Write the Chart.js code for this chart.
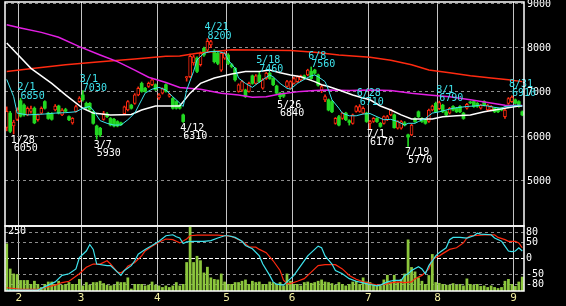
<!DOCTYPE html>
<html>
<head>
<meta charset="utf-8">
<title>daily chart</title>
<script src="https://cdn.jsdelivr.net/npm/chart.js@4/dist/chart.umd.min.js"></script>
<style>
	html, body { margin: 0; padding: 0; background: #000; }
	#wrap { position: relative; width: 566px; height: 306px; overflow: hidden; }
	canvas { position: absolute; left: 0; display: block; }
	#price { top: 0; }
	#lower { top: 224px; }
</style>
</head>
<body>
<div id="wrap">
	<canvas id="price" width="566" height="228"></canvas>
	<canvas id="lower" width="566" height="82"></canvas>
</div>
<script>
// trading day index where each month starts, and its label
const monthStarts = [4, 22, 44, 64, 83, 105, 125, 147];
const monthLabels = ['2', '3', '4', '5', '6', '7', '8', '9'];
const priceTicks = [5000, 6000, 7000, 8000, 9000];
const oscTicks = [-80, -50, 0, 50, 80];
const volMax = 250;

// daily candles, one value per trading day
const opens = [
	6200,6520,6230,6380,6800,6700,6480,6560,6630,6370,
	6520,6780,6520,6500,6590,6680,6480,6600,6440,6300,
	6560,6780,6930,6740,6740,6550,6230,6180,6380,6500,
	6400,6380,6330,6300,6510,6590,6700,6740,6930,7190,
	7080,7120,7160,7160,6860,6970,7160,6900,6850,6780,
	6700,6480,7320,7340,7650,7760,7610,7980,7940,8060,
	7910,7870,7490,7760,7830,7610,7530,7010,7040,7040,
	7010,7360,7190,7380,7080,7300,7420,7300,7130,6970,
	6960,7120,7080,7190,7230,7270,7360,7380,7460,7490,
	7380,7040,6820,6820,6780,6290,6440,6400,6520,6350,
	6290,6560,6560,6520,6520,6290,6330,6400,6290,6290,
	6370,6480,6480,6180,6180,6300,6030,6030,6400,6550,
	6400,6370,6330,6590,6740,6620,6700,6550,6520,6670,
	6630,6670,6520,6630,6770,6780,6740,6630,6780,6590,
	6590,6630,6610,6630,6440,6740,6780,6820,6780,6550
];
const highs = [
	6660,6560,6360,6640,6850,6730,6660,6680,6660,6500,
	6660,6800,6540,6530,6710,6700,6620,6630,6460,6420,
	6700,6890,7030,6770,6760,6570,6250,6200,6560,6530,
	6420,6400,6350,6320,6680,6800,6720,6960,7110,7220,
	7100,7220,7300,7180,6960,7090,7180,6970,6870,6800,
	6720,6500,7350,7850,7830,7790,7900,8010,8200,8160,
	7950,7900,7900,7900,7860,7640,7550,7180,7260,7060,
	7220,7380,7390,7460,7300,7440,7440,7320,7150,6990,
	6990,7260,7250,7330,7360,7380,7380,7510,7560,7510,
	7400,7150,6930,6840,6800,6420,6470,6540,6540,6370,
	6500,6690,6710,6660,6540,6360,6420,6420,6310,6460,
	6470,6610,6500,6350,6350,6330,6050,6270,6420,6570,
	6420,6390,6610,6700,6770,6790,6720,6570,6650,6690,
	6650,6690,6540,6740,6790,6800,6760,6720,6800,6720,
	6690,6650,6630,6650,6610,6870,6910,6840,6800,6570
];
const lows = [
	6120,6080,6050,6350,6430,6450,6460,6520,6280,6340,
	6500,6610,6380,6360,6570,6500,6460,6540,6350,6270,
	6540,6760,6790,6620,6580,6270,5930,5990,6360,6420,
	6230,6210,6210,6240,6490,6570,6610,6720,6910,6990,
	6990,7100,7140,7030,6830,6950,6990,6880,6610,6610,
	6610,6310,7240,7320,7600,7430,7580,7800,7900,8000,
	7650,7610,7460,7730,7610,7540,7240,6990,7010,6870,
	6990,7170,7170,7210,7060,7280,7280,7140,6950,6840,
	6870,7100,7060,7170,7210,7250,7280,7360,7280,7400,
	7130,6980,6780,6570,6530,6270,6230,6380,6350,6250,
	6270,6540,6540,6500,6310,6170,6310,6310,6200,6270,
	6350,6460,6180,6160,6160,6230,5770,6010,6310,6420,
	6310,6270,6310,6570,6530,6600,6530,6460,6500,6570,
	6530,6530,6380,6610,6730,6650,6650,6610,6680,6570,
	6570,6530,6530,6570,6400,6720,6760,6720,6650,6460
];
const closes = [
	6560,6110,6320,6590,6450,6480,6630,6620,6300,6480,
	6630,6630,6400,6380,6680,6520,6590,6560,6370,6400,
	6670,6860,6820,6640,6600,6290,6030,6030,6510,6440,
	6250,6230,6230,6260,6660,6780,6630,6930,7080,7010,
	7010,7190,7270,7050,6930,7070,7010,6940,6630,6630,
	6630,6330,7340,7800,7790,7460,7870,7830,8140,8130,
	7680,7640,7870,7870,7640,7570,7270,7160,7230,6890,
	7190,7190,7360,7230,7270,7420,7300,7160,6970,6890,
	6900,7230,7230,7300,7340,7360,7300,7490,7300,7420,
	7150,7120,6890,6590,6550,6400,6250,6520,6370,6310,
	6480,6670,6670,6630,6330,6330,6400,6330,6220,6440,
	6440,6590,6190,6330,6330,6250,5980,6250,6330,6440,
	6330,6290,6590,6680,6550,6760,6550,6480,6630,6590,
	6550,6550,6400,6720,6750,6670,6670,6700,6700,6700,
	6670,6550,6550,6590,6590,6850,6880,6740,6670,6480
];
const volumes = [
	183,86,67,65,42,42,42,27,39,27,
	15,27,36,36,27,39,24,27,34,27,
	27,46,21,34,24,34,34,39,30,24,
	21,24,36,34,34,52,9,27,27,27,
	21,24,36,24,21,15,21,15,21,34,
	21,27,111,250,111,135,118,71,93,52,
	46,44,67,36,27,27,34,34,39,44,
	27,39,34,36,27,27,36,34,27,34,
	21,67,39,27,27,21,34,36,31,34,
	39,44,36,34,30,24,34,27,21,27,
	36,39,27,52,36,34,27,21,21,44,
	62,34,62,34,46,67,198,92,75,52,
	39,27,61,142,34,31,27,24,24,30,
	24,27,21,48,27,24,27,19,21,15,
	21,15,11,15,39,46,27,19,36,55
];

// moving averages as [day, price]
const maShort = [[0,7280],[2,6890],[3,6520],[6,6480],[11,6500],[14,6520],[17,6530],[20,6550],[22,6630],[24,6670],[25,6590],[27,6350],[29,6290],[31,6250],[33,6250],[35,6370],[37,6520],[39,6820],[40,6970],[42,7060],[44,7100],[46,7040],[48,6890],[49,6820],[51,6670],[52,7040],[54,7460],[55,7720],[57,7870],[59,7910],[61,7910],[63,7870],[64,7720],[66,7530],[67,7310],[69,7190],[71,7100],[72,7160],[74,7270],[76,7380],[77,7340],[79,7190],[81,7080],[82,7060],[84,7190],[86,7280],[88,7360],[89,7380],[90,7340],[92,7230],[93,7040],[94,6820],[96,6630],[97,6520],[99,6460],[101,6460],[103,6500],[105,6510],[107,6440],[109,6370],[111,6380],[113,6330],[115,6250],[116,6290],[118,6290],[119,6330],[121,6400],[123,6520],[125,6550],[127,6590],[129,6630],[131,6650],[133,6670],[135,6680],[137,6700],[139,6680],[141,6650],[143,6630],[144,6670],[146,6680],[148,6700],[149,6680]];
const maMid = [[0,8100],[7,7530],[13,7190],[17,6930],[22,6630],[25,6520],[30,6480],[36,6490],[39,6590],[43,6680],[50,6680],[53,6970],[56,7190],[60,7310],[65,7400],[69,7460],[73,7460],[76,7490],[79,7430],[82,7380],[85,7340],[89,7230],[91,7160],[93,7120],[96,7040],[100,6930],[103,6860],[105,6820],[108,6680],[111,6590],[114,6480],[117,6390],[123,6390],[126,6440],[130,6460],[134,6480],[138,6550],[144,6630],[148,6680],[149,6680]];
const maLong = [[0,8510],[4,8440],[10,8340],[15,8230],[21,8020],[27,7830],[32,7680],[37,7490],[41,7330],[46,7210],[50,7100],[56,7060],[62,6970],[67,6930],[71,6880],[75,6890],[79,6950],[85,7010],[89,7030],[93,7040],[99,7030],[105,7040],[111,7030],[117,6970],[122,6930],[128,6890],[134,6820],[139,6760],[144,6700],[149,6690]];
const maLonger = [[0,7460],[8,7530],[17,7610],[27,7680],[37,7740],[46,7800],[50,7810],[55,7870],[65,7950],[82,7930],[89,7890],[96,7830],[105,7780],[111,7710],[117,7610],[122,7490],[128,7430],[134,7360],[140,7310],[145,7270],[149,7230]];

// oscillator in the lower panel, [day, value]
const oscFast = [[0,-97],[2,-97],[9,-97],[12,-82],[14,-72],[16,-52],[18,-47],[20,-32],[21,3],[23,23],[24,43],[25,28],[26,-17],[29,-22],[30,-22],[32,-42],[33,-52],[34,-37],[36,-22],[37,-7],[38,13],[40,28],[42,40],[44,53],[46,70],[48,73],[49,67],[50,63],[51,46],[52,51],[54,53],[57,53],[59,55],[61,63],[63,70],[64,70],[66,65],[68,53],[69,40],[71,30],[73,8],[74,-17],[76,-52],[77,-72],[78,-79],[80,-82],[81,-72],[83,-52],[85,-22],[87,8],[89,28],[90,38],[91,33],[92,8],[94,-17],[95,-37],[97,-47],[99,-62],[101,-70],[103,-75],[105,-80],[107,-84],[108,-82],[110,-72],[112,-67],[114,-67],[115,-52],[116,-47],[117,-37],[119,-25],[120,-32],[121,-47],[122,-22],[124,8],[125,18],[127,33],[128,58],[129,65],[131,65],[133,63],[135,70],[136,78],[137,75],[140,73],[141,63],[143,53],[144,38],[145,23],[146,21],[147,23],[148,33],[149,23]];
const oscSlow = [[0,-90],[4,-95],[9,-95],[12,-87],[14,-82],[16,-74],[18,-70],[21,-47],[23,-27],[25,-17],[27,-17],[29,-7],[30,-17],[32,-42],[33,-44],[34,-37],[35,-24],[37,-12],[39,8],[40,23],[42,38],[44,50],[46,60],[48,58],[49,53],[50,48],[52,60],[53,70],[55,72],[58,72],[61,72],[63,70],[65,68],[66,63],[68,53],[70,36],[72,35],[73,28],[75,18],[77,-7],[79,-37],[80,-67],[81,-77],[82,-77],[84,-70],[86,-62],[88,-42],[90,-22],[92,-19],[95,-19],[97,-32],[99,-52],[101,-64],[103,-72],[105,-77],[107,-82],[109,-80],[111,-75],[113,-72],[115,-74],[117,-72],[118,-62],[119,-57],[120,-52],[122,-32],[123,-2],[125,8],[126,15],[128,28],[130,33],[132,48],[133,63],[134,70],[136,71],[139,73],[141,73],[142,65],[144,58],[145,53],[147,53],[148,48],[149,33]];

// swing highs / lows written on the chart
const marks = [
	{i: 2, date: '1/28', val: 6050, side: 'low'},
	{i: 4, date: '2/1', val: 6850, side: 'high'},
	{i: 22, date: '3/1', val: 7030, side: 'high'},
	{i: 26, date: '3/7', val: 5930, side: 'low'},
	{i: 51, date: '4/12', val: 6310, side: 'low'},
	{i: 58, date: '4/21', val: 8200, side: 'high'},
	{i: 73, date: '5/18', val: 7460, side: 'high'},
	{i: 79, date: '5/26', val: 6840, side: 'low'},
	{i: 88, date: '6/8', val: 7560, side: 'high'},
	{i: 102, date: '6/28', val: 6710, side: 'high'},
	{i: 105, date: '7/1', val: 6170, side: 'low'},
	{i: 116, date: '7/19', val: 5770, side: 'low'},
	{i: 125, date: '8/1', val: 6790, side: 'high'},
	{i: 146, date: '8/31', val: 6910, side: 'high'}
];

const CYAN = '#3ee4ee', RED = '#ff2a10', GREEN = '#22d822', MAGENTA = '#e31fe3', VOL = '#8cc63c';
const MONO = '"DejaVu Sans Mono", monospace';
const N = opens.length;
const isUp = i => closes[i] >= opens[i];
const pts = list => list.map(p => ({x: p[0], y: p[1]}));

function monthAxis(showLabels) {
	return {
		type: 'linear', min: -0.5, max: N - 0.5, offset: false,
		afterBuildTicks: s => { s.ticks = monthStarts.map(k => ({value: k - 0.5})); },
		grid: {color: '#c4c4c4', lineWidth: 1, drawTicks: false, offset: false},
		border: {display: false},
		ticks: {
			display: showLabels, autoSkip: false, maxRotation: 0, padding: 2,
			color: '#f2eea0', font: {family: MONO, size: 11, lineHeight: 1},
			callback: (v, i) => monthLabels[i]
		}
	};
}

function fixRight(s) {
	s.width = 42;
	s.paddingTop = 0;
	s.paddingBottom = 0;
}

// white frame round each panel
const frame = {
	id: 'frame',
	afterDraw(chart) {
		const a = chart.chartArea, ctx = chart.ctx;
		ctx.save();
		ctx.strokeStyle = '#fff';
		ctx.lineWidth = 1.5;
		ctx.strokeRect(a.left, a.top, a.right - a.left, a.bottom - a.top);
		ctx.restore();
	}
};

const markText = {
	id: 'markText',
	afterDatasetsDraw(chart) {
		const ctx = chart.ctx, x = chart.scales.x, y = chart.scales.y;
		ctx.save();
		ctx.font = '10px ' + MONO;
		ctx.textAlign = 'left';
		ctx.textBaseline = 'middle';
		marks.forEach(m => {
			const px = x.getPixelForValue(m.i);
			const py = y.getPixelForValue(m.val);
			const high = m.side === 'high';
			ctx.fillStyle = high ? CYAN : '#fff';
			ctx.fillText(m.date, px - 3, high ? py - 11 : py + 6);
			ctx.fillText(String(m.val), px, high ? py - 2.5 : py + 14);
		});
		ctx.restore();
	}
};

const volText = {
	id: 'volText',
	afterDraw(chart) {
		const a = chart.chartArea, ctx = chart.ctx;
		ctx.save();
		ctx.font = '10px ' + MONO;
		ctx.fillStyle = '#fff';
		ctx.textBaseline = 'middle';
		ctx.fillText(String(volMax), a.left + 3, a.top + 5);
		ctx.restore();
	}
};

const lineBase = {type: 'line', pointRadius: 0, tension: 0, fill: false};

new Chart(document.getElementById('price'), {
	type: 'bar',
	data: {
		datasets: [
			Object.assign({label: 'short', data: pts(maShort), borderColor: CYAN, borderWidth: 1, order: 1}, lineBase),
			Object.assign({label: 'mid', data: pts(maMid), borderColor: '#fff', borderWidth: 1.5, order: 2}, lineBase),
			Object.assign({label: 'long', data: pts(maLong), borderColor: MAGENTA, borderWidth: 1.5, order: 3}, lineBase),
			Object.assign({label: 'longer', data: pts(maLonger), borderColor: RED, borderWidth: 1.5, order: 4}, lineBase),
			{
				label: 'body',
				data: opens.map((o, i) => ({x: i, y: [o, closes[i]]})),
				grouped: false, barThickness: 3,
				minBarLength: 1, borderSkipped: false,
				backgroundColor: c => isUp(c.dataIndex) ? '#000' : GREEN,
				borderColor: c => isUp(c.dataIndex) ? RED : GREEN,
				borderWidth: c => isUp(c.dataIndex) ? 1 : 0,
				order: 6
			},
			{
				label: 'wick',
				data: lows.map((l, i) => ({x: i, y: [l, highs[i]]})),
				grouped: false, barThickness: 1,
				backgroundColor: c => isUp(c.dataIndex) ? RED : GREEN,
				order: 7
			}
		]
	},
	options: {
		responsive: false,
		animation: false,
		layout: {padding: {left: 5, top: 2, right: 0, bottom: 2}},
		plugins: {legend: {display: false}, tooltip: {enabled: false}},
		scales: {
			x: monthAxis(false),
			y: {
				type: 'linear', position: 'right', min: 3975, max: 9025, beginAtZero: false,
				afterBuildTicks: s => { s.ticks = priceTicks.map(v => ({value: v})); },
				afterFit: fixRight,
				grid: {color: '#8c8c8c', drawTicks: false},
				border: {display: false, dash: [3, 3]},
				ticks: {color: '#fff', font: {family: MONO, size: 10}, padding: 3, labelOffset: 1, callback: v => String(v)}
			}
		}
	},
	plugins: [frame, markText]
});

new Chart(document.getElementById('lower'), {
	type: 'bar',
	data: {
		datasets: [
			Object.assign({label: 'fast', data: pts(oscFast), borderColor: CYAN, borderWidth: 1.2, yAxisID: 'y', order: 1}, lineBase),
			Object.assign({label: 'slow', data: pts(oscSlow), borderColor: RED, borderWidth: 1.2, yAxisID: 'y', order: 2}, lineBase),
			{
				label: 'volume',
				data: volumes.map((v, i) => ({x: i, y: v})),
				yAxisID: 'yVol', backgroundColor: VOL,
				barPercentage: 0.8, categoryPercentage: 1, order: 3
			}
		]
	},
	options: {
		responsive: false,
		animation: false,
		layout: {padding: {left: 5, top: 2, right: 0, bottom: 0}},
		plugins: {legend: {display: false}, tooltip: {enabled: false}},
		scales: {
			x: monthAxis(true),
			y: {
				type: 'linear', position: 'right', min: -100, max: 100, beginAtZero: false,
				afterBuildTicks: s => { s.ticks = oscTicks.map(v => ({value: v})); },
				afterFit: fixRight,
				grid: {color: c => (c.tick && c.tick.value === 0) ? '#ffffff' : '#8c8c8c', drawTicks: false},
				border: {display: false, dash: c => (c.tick && c.tick.value === 0) ? [4, 2] : [3, 3]},
				ticks: {color: '#fff', font: {family: MONO, size: 10}, padding: 2, callback: v => String(v)}
			},
			yVol: {type: 'linear', position: 'left', display: false, min: 0, max: volMax}
		}
	},
	plugins: [frame, volText]
});
</script>
</body>
</html>
